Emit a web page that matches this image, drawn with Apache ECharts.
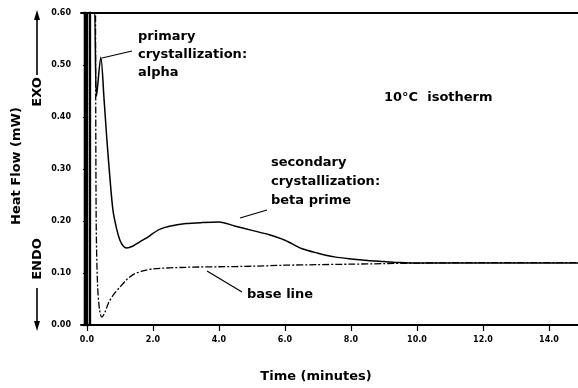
<!DOCTYPE html>
<html>
<head>
<meta charset="utf-8">
<script src="https://cdn.jsdelivr.net/npm/echarts/dist/echarts.min.js"></script>
<style>
html,body{margin:0;padding:0;background:#fff;}
#chart{width:578px;height:388px;}
</style>
</head>
<body>
<div id="chart"></div>
<script>
// ---- data ----
var xTickValues = [0, 2, 4, 6, 8, 10, 12, 14];
var yTickValues = [0, 0.1, 0.2, 0.3, 0.4, 0.5, 0.6];

// initial instrument transient (off-scale, clipped at top)
var transientX = [-0.06, -0.06, 0.09, 0.09];
var transientY = [0.62, 0.0, 0.0, 0.62];

// sample curve (solid)
var sampleX = [0.09, 0.21, 0.29, 0.42, 0.52, 0.6, 0.7, 0.79, 0.9, 1.0, 1.1, 1.2, 1.4, 1.6, 1.8, 2.0, 2.2, 2.5, 3.0, 3.5, 4.0, 4.5, 5.0, 5.5, 6.0, 6.5, 7.0, 7.5, 8.0, 8.5, 9.0, 9.5, 10.0, 11.0, 12.0, 13.0, 14.0, 14.9];
var sampleY = [0.62, 0.62, 0.44, 0.515, 0.433, 0.36, 0.28, 0.22, 0.185, 0.163, 0.152, 0.148, 0.152, 0.16, 0.167, 0.176, 0.184, 0.19, 0.195, 0.197, 0.198, 0.19, 0.182, 0.174, 0.163, 0.147, 0.138, 0.131, 0.127, 0.124, 0.122, 0.12, 0.119, 0.119, 0.119, 0.119, 0.119, 0.119];

// base line (dash-dot)
var baseX = [0.26, 0.28, 0.32, 0.38, 0.45, 0.55, 0.65, 0.8, 1.0, 1.2, 1.4, 1.7, 2.0, 3.0, 4.0, 5.0, 6.0, 7.0, 8.0, 9.0, 10.0, 12.0, 14.9];
var baseY = [0.62, 0.2, 0.08, 0.03, 0.015, 0.025, 0.042, 0.058, 0.073, 0.087, 0.097, 0.104, 0.108, 0.111, 0.112, 0.113, 0.115, 0.116, 0.117, 0.118, 0.119, 0.12, 0.12];

function pairs(xs, ys) { return xs.map(function (x, i) { return [x, ys[i]]; }); }

var FONT = 'DejaVu Sans';
var chart = echarts.init(document.getElementById('chart'), null, {renderer: 'canvas'});

var option = {
  animation: false,
  backgroundColor: '#fff',
  grid: {left: 81, right: 0, top: 13, bottom: 63},
  xAxis: [{
    type: 'value', min: -0.18, max: 14.88,
    axisLine: {lineStyle: {color: '#000', width: 2}},
    axisTick: {show: true, length: 6, lineStyle: {color: '#000', width: 1.2}, customValues: xTickValues},
    axisLabel: {customValues: xTickValues, color: '#000', fontFamily: FONT, fontWeight: 'bold', fontSize: 8, margin: 11,
      formatter: function (v) { return v.toFixed(1); }},
    splitLine: {show: false}
  }, {
    type: 'value', position: 'top', min: -0.18, max: 14.88,
    axisLine: {show: true, lineStyle: {color: '#000', width: 2}},
    axisTick: {show: false}, axisLabel: {show: false}, splitLine: {show: false}
  }],
  yAxis: {
    type: 'value', min: 0, max: 0.6, interval: 0.1,
    axisLine: {show: true, lineStyle: {color: '#000', width: 2}},
    axisTick: {show: true, length: 4, lineStyle: {color: '#000', width: 1.2}},
    minorTick: {show: true, splitNumber: 2, length: 3, lineStyle: {color: '#000', width: 1}},
    axisLabel: {color: '#000', fontFamily: FONT, fontWeight: 'bold', fontSize: 8, margin: 10,
      formatter: function (v) { return v.toFixed(2); }},
    splitLine: {show: false}
  },
  series: [{
    type: 'line', data: pairs(transientX, transientY), showSymbol: false, symbol: 'none',
    lineStyle: {color: '#000', width: 2.5}, clip: true
  }, {
    type: 'line', data: pairs(sampleX, sampleY), showSymbol: false, symbol: 'none', smooth: 0.3,
    lineStyle: {color: '#000', width: 1.5}, clip: true
  }, {
    type: 'line', data: pairs(baseX, baseY), showSymbol: false, symbol: 'none', smooth: 0.3,
    lineStyle: {color: '#000', width: 1.3, type: [7, 2, 2, 2]}, clip: true
  }],
  graphic: [
    // y-axis title
    {type: 'text', x: 17, y: 166, rotation: Math.PI / 2,
      style: {text: 'Heat Flow (mW)', fill: '#000', font: 'bold 13px "DejaVu Sans"', textAlign: 'center', textVerticalAlign: 'middle'}},
    {type: 'text', x: 38, y: 92, rotation: Math.PI / 2,
      style: {text: 'EXO', fill: '#000', font: 'bold 13px "DejaVu Sans"', textAlign: 'center', textVerticalAlign: 'middle'}},
    {type: 'text', x: 38, y: 259, rotation: Math.PI / 2,
      style: {text: 'ENDO', fill: '#000', font: 'bold 13px "DejaVu Sans"', textAlign: 'center', textVerticalAlign: 'middle'}},
    // arrows
    {type: 'line', shape: {x1: 37, y1: 75, x2: 37, y2: 18}, style: {stroke: '#000', lineWidth: 1.6}},
    {type: 'polygon', shape: {points: [[37, 10], [34, 20], [40, 20]]}, style: {fill: '#000'}},
    {type: 'line', shape: {x1: 37, y1: 288, x2: 37, y2: 322}, style: {stroke: '#000', lineWidth: 1.6}},
    {type: 'polygon', shape: {points: [[37, 331], [34, 321], [40, 321]]}, style: {fill: '#000'}},
    // x-axis title
    {type: 'text', x: 316, y: 377,
      style: {text: 'Time (minutes)', fill: '#000', font: 'bold 13px "DejaVu Sans"', textAlign: 'center', textVerticalAlign: 'middle'}},
    // annotations
    {type: 'text', x: 138, y: 55,
      style: {text: 'primary\ncrystallization:\nalpha', fill: '#000', font: 'bold 13px "DejaVu Sans"', lineHeight: 18, textAlign: 'left', textVerticalAlign: 'middle'}},
    {type: 'line', shape: {x1: 102, y1: 58, x2: 132, y2: 51}, style: {stroke: '#000', lineWidth: 1.2}},
    {type: 'text', x: 384, y: 98,
      style: {text: '10°C  isotherm', fill: '#000', font: 'bold 13px "DejaVu Sans"', textAlign: 'left', textVerticalAlign: 'middle'}},
    {type: 'text', x: 271, y: 182,
      style: {text: 'secondary\ncrystallization:\nbeta prime', fill: '#000', font: 'bold 13px "DejaVu Sans"', lineHeight: 19, textAlign: 'left', textVerticalAlign: 'middle'}},
    {type: 'line', shape: {x1: 240, y1: 218, x2: 267, y2: 210}, style: {stroke: '#000', lineWidth: 1.2}},
    {type: 'text', x: 247, y: 295,
      style: {text: 'base line', fill: '#000', font: 'bold 13px "DejaVu Sans"', textAlign: 'left', textVerticalAlign: 'middle'}},
    {type: 'line', shape: {x1: 207, y1: 271, x2: 242, y2: 292}, style: {stroke: '#000', lineWidth: 1.2}}
  ]
};
chart.setOption(option);
</script>
</body>
</html>
